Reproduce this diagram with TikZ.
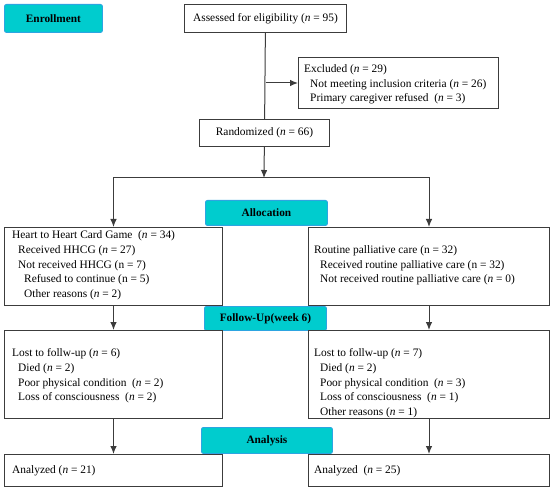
\documentclass[tikz,border=0pt]{standalone}
\usepackage{fontspec}
\setmainfont{Liberation Serif}
\usetikzlibrary{arrows.meta}

\definecolor{stagefill}{RGB}{0,204,206}
\definecolor{stageline}{RGB}{45,165,225}
\definecolor{boxline}{RGB}{60,60,60}

\tikzset{
  stage/.style={draw=stageline, fill=stagefill, rounded corners=2pt, line width=0.9pt,
    anchor=north west, inner sep=0pt, font=\bfseries\fontsize{11.3}{13}\selectfont},
  box/.style={draw=boxline, line width=1pt, anchor=north west, inner sep=0pt,
    font=\fontsize{11.4}{14.7}\selectfont},
  txt/.style={anchor=west, inner sep=0pt, align=left, font=\fontsize{11.4}{14.7}\selectfont},
  flow/.style={draw=boxline, line width=1pt, -{Latex[length=8pt,width=6.5pt]}},
}
\newcommand{\ind}{\hspace*{6pt}}

\begin{document}
\begin{tikzpicture}[x=1pt, y=-1pt]
  \useasboundingbox (0,0) rectangle (550,487);

  \node[stage, minimum width=98pt, minimum height=28pt] (enroll) at (4,4) {Enrollment};
  \node[box, minimum width=162pt, minimum height=28pt] (assess) at (184,4)
    {Assessed for eligibility (\textit{n} = 95)};
  \node[box, minimum width=200pt, minimum height=51pt] (excl) at (298,57) {};
  \node[txt] (exclT) at (304,84.5) {Excluded (\textit{n} = 29)\\
    \ind Not meeting inclusion criteria (\textit{n} = 26)\\
    \ind Primary caregiver refused\ \ (\textit{n} = 3)};
  \node[box, minimum width=130pt, minimum height=27pt] (rand) at (199,119)
    {Randomized (\textit{n} = 66)};
  \coordinate (split) at (264,178);

  \node[stage, minimum width=122pt, minimum height=25pt] (alloc) at (205,200) {Allocation};
  \node[box, minimum width=218pt, minimum height=78pt] (grpA) at (4,227) {};
  \node[txt] (grpAT) at (12,265.5) {Heart to Heart Card Game\ \ (\textit{n} = 34)\\
    \ind Received HHCG (\textit{n} = 27)\\
    \ind Not received HHCG (n = 7)\\
    \ind\ind Refused to continue (n = 5)\\
    \ind\ind Other reasons (\textit{n} = 2)};
  \node[box, minimum width=241pt, minimum height=78pt] (grpB) at (308,227) {};
  \node[txt] (grpBT) at (314,265.5) {Routine palliative care (n = 32)\\
    \ind Received routine palliative care (n = 32)\\
    \ind Not received routine palliative care (\textit{n} = 0)};

  \node[stage, minimum width=122pt, minimum height=24pt] (follow) at (204,306) {Follow-Up(week 6)};
  \node[box, minimum width=218pt, minimum height=88pt] (lostA) at (4,330) {};
  \node[txt] (lostAT) at (12,376) {Lost to follw-up (\textit{n} = 6)\\
    \ind Died (\textit{n} = 2)\\
    \ind Poor physical condition\ \ (\textit{n} = 2)\\
    \ind Loss of consciousness\ \ (\textit{n} = 2)};
  \node[box, minimum width=241pt, minimum height=88pt] (lostB) at (308,330) {};
  \node[txt] (lostBT) at (314,383.4) {Lost to follw-up (\textit{n} = 7)\\
    \ind Died (\textit{n} = 2)\\
    \ind Poor physical condition\ \ (\textit{n} = 3)\\
    \ind Loss of consciousness\ \ (\textit{n} = 1)\\
    \ind Other reasons (\textit{n} = 1)};

  \node[stage, minimum width=131pt, minimum height=26pt] (analysis) at (201,427) {Analysis};
  \node[box, minimum width=218pt, minimum height=32pt] (anaA) at (4,454) {};
  \node[txt] (anaAT) at (12,471) {Analyzed (\textit{n} = 21)};
  \node[box, minimum width=241pt, minimum height=32pt] (anaB) at (308,454) {};
  \node[txt] (anaBT) at (314,471) {Analyzed\ \ (\textit{n} = 25)};

  \draw[draw=boxline, line width=1pt] (assess) -- (rand);
  \draw[flow] (assess.south |- excl.west) -- (excl.west);
  \draw[flow] (rand) -- (split);
  \draw[flow] (split) -| (grpA.north);
  \draw[flow] (split) -| (grpB.north);
  \draw[flow] (grpA) -- (lostA);
  \draw[flow] (grpB) -- (lostB);
  \draw[flow] (lostA) -- (anaA);
  \draw[flow] (lostB) -- (anaB);
\end{tikzpicture}
\end{document}
